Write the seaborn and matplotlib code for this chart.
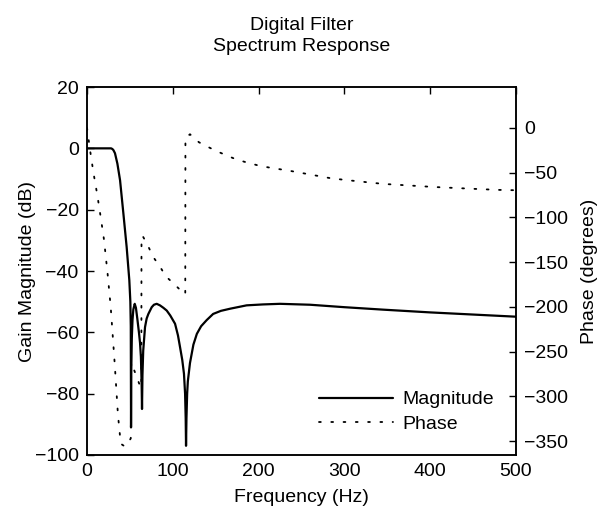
import pandas as pd
import matplotlib
matplotlib.use("Agg")
import matplotlib.pyplot as plt
import seaborn as sns

# -----------------------------------
# DATA
# -----------------------------------
mag_freq = [0, 10, 20, 28.0, 29.5, 30.8, 32.6, 35.4, 38.5, 42.4, 46.2, 49.3,
            50.5, 51.0, 51.3, 51.6, 52.2, 53.0, 54.0, 55.6, 57.0, 58.6, 60.5,
            61.8, 62.8, 63.6, 64.1, 64.6, 65.5, 67.6, 69.5, 71.5, 75.4, 78.0,
            81.2, 85.0, 89.0, 92.9, 97.0, 102.6, 106.0, 108.4, 111.0, 113.0,
            114.3, 115.0, 115.4, 115.9, 116.7, 117.5, 120.0, 124.0, 128.0,
            133.0, 139.5, 147.0, 156.0, 166.7, 186.0, 205.0, 225.0, 260.0,
            300.0, 345.0, 400.0, 450.0, 500.0]
mag_db = [0, 0, 0, 0, -0.2, -0.6, -1.6, -5, -10.4, -21.3, -32.2, -43,
          -50, -58, -91, -72, -62, -56, -52.5, -50.7, -52, -55.5, -60,
          -63.5, -68, -76, -85, -74, -66, -58.3, -55.5, -54, -51.8, -51,
          -50.7, -51.2, -52, -52.9, -54.5, -57.2, -61, -64.8, -69, -73.5,
          -80, -88, -97, -88, -80, -76, -70, -64, -60.5,
          -58, -56, -54, -53, -52.3, -51.2, -50.9, -50.7, -51.0,
          -51.8, -52.6, -53.5, -54.2, -54.9]

phase_freq = [0, 3.5, 7.4, 12, 16, 19.8, 24, 27.6, 32.3, 36, 39.3, 44, 48, 51,
              51.5, 57, 62, 63.3, 63.5, 65, 70.7, 77, 85, 92, 101, 110.7,
              114.5, 114.7, 120, 130.5, 138, 149, 161, 173.6, 186, 198, 211,
              224, 237, 283, 300, 345, 405, 450, 479, 500]
phase_deg = [0, -24.5, -49.5, -75, -100, -125, -163, -200, -264, -320, -353,
             -356, -352, -347, -262, -276, -289, -290, -121, -121, -131, -144,
             -155, -166, -174, -183, -186, -11, -7, -16, -19.7, -25, -30, -35,
             -38.5, -41.5, -44, -46, -48, -56, -58, -62.5, -66, -68, -69.2,
             -69.6]

mag_ticks = [20, 0, -20, -40, -60, -80, -100]
phase_ticks = [0, -50, -100, -150, -200, -250, -300, -350]
freq_ticks = [0, 100, 200, 300, 400, 500]

mag_df = pd.DataFrame({"Frequency": mag_freq, "Magnitude": mag_db})
phase_df = pd.DataFrame({"Frequency": phase_freq, "Phase": phase_deg})

# -----------------------------------
# STYLE
# -----------------------------------
sns.set_theme(style="white")
plt.rcParams["font.family"] = ["Liberation Sans", "DejaVu Sans"]
plt.rcParams["font.size"] = 14
plt.rcParams["axes.linewidth"] = 1.1
plt.rcParams["text.color"] = "black"
plt.rcParams["axes.labelcolor"] = "black"

fig = plt.figure(figsize=(6.06, 5.14), dpi=100)
ax = fig.add_axes([0.1436, 0.1148, 0.7079, 0.7159])
ax2 = ax.twinx()

# -----------------------------------
# MAGNITUDE
# -----------------------------------
sns.lineplot(
    data=mag_df,
    x="Frequency",
    y="Magnitude",
    ax=ax,
    color="black",
    linewidth=1.6,
    estimator=None,
    sort=False,
    label="Magnitude",
    legend=False
)

# -----------------------------------
# PHASE
# -----------------------------------
sns.lineplot(
    data=phase_df,
    x="Frequency",
    y="Phase",
    ax=ax2,
    color="black",
    linewidth=1.3,
    estimator=None,
    sort=False,
    label="Phase",
    legend=False
)
ax2.lines[0].set_linestyle((0, (1, 5.8)))
ax2.lines[0].set_dash_capstyle("round")

# -----------------------------------
# AXES
# -----------------------------------
ax.set_xlim(0, 500)
ax.set_ylim(-100, 20)
ax.set_xticks(freq_ticks)
ax.set_yticks(mag_ticks)
ax2.set_ylim(-365.6, 45.8)
ax2.set_yticks(phase_ticks)

ax.tick_params(direction="in", length=5, width=1, top=True, right=False,
               labelsize=14, pad=6, colors="black")
ax2.tick_params(direction="in", length=5, width=1, right=True,
                labelsize=14, pad=6, colors="black")

ax.set_xlabel("Frequency (Hz)", fontsize=14, labelpad=6, color="black")
ax.set_ylabel("Gain Magnitude (dB)", fontsize=14, labelpad=-1,
              color="black")
ax2.set_ylabel("Phase (degrees)", fontsize=14, labelpad=9, color="black")

for spine in list(ax.spines.values()) + list(ax2.spines.values()):
    spine.set_color("black")

ax.set_title("Digital Filter\nSpectrum Response", fontsize=14, pad=26,
             linespacing=1.3, color="black")

# -----------------------------------
# LEGEND
# -----------------------------------
handles = ax.lines[:1] + ax2.lines[:1]
ax2.legend(
    handles,
    ["Magnitude", "Phase"],
    loc="lower right",
    bbox_to_anchor=(0.949, 0.06),
    frameon=False,
    handlelength=3.8,
    handletextpad=0.5,
    labelspacing=0.35,
    borderpad=0,
    borderaxespad=0,
    fontsize=14
)

plt.savefig("out.png", dpi=100)
